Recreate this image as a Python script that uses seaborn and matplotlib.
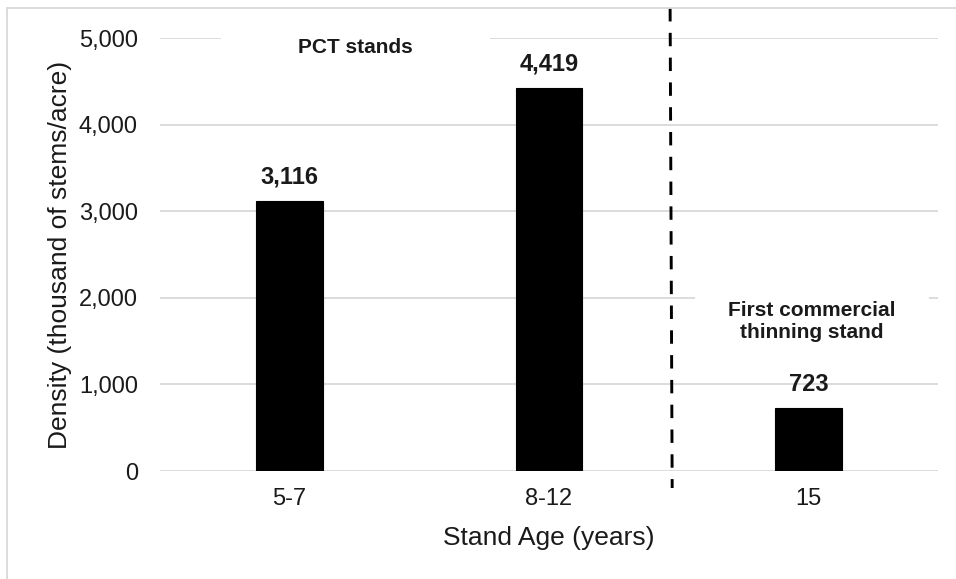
import matplotlib
matplotlib.use("Agg")
import matplotlib.pyplot as plt
from matplotlib.patches import Rectangle
import seaborn as sns

# chart data
stand_ages = ["5-7", "8-12", "15"]
density = [3116, 4419, 723]
y_ticks = [0, 1000, 2000, 3000, 4000, 5000]
group_notes = ["PCT stands", "First commercial\nthinning stand"]

sns.set_theme(style="white")
plt.rcParams["font.family"] = ["Liberation Sans", "DejaVu Sans"]

fig = plt.figure(figsize=(9.56, 5.79), dpi=100)
ax = fig.add_axes([160 / 956, 1 - 471 / 579, 778 / 956, 433 / 579])

sns.barplot(x=stand_ages, y=density, color="black", width=0.257,
            edgecolor="black", linewidth=0.8, saturation=1, ax=ax, zorder=3)

ax.set_xlim(-0.5, 2.5)
ax.set_ylim(0, 5000)
ax.set_yticks(y_ticks)
ax.set_yticklabels([f"{v:,}" for v in y_ticks])
ax.yaxis.grid(True, color="#d9d9d9", linewidth=1.3, zorder=0)
ax.set_axisbelow(True)
for s in ax.spines.values():
    s.set_visible(False)
ax.tick_params(axis="both", length=0, labelsize=17, colors="#1a1a1a")
ax.tick_params(axis="x", pad=12)
ax.tick_params(axis="y", pad=16)

ax.set_xlabel("Stand Age (years)", fontsize=19, color="#1a1a1a", labelpad=12)
ax.set_ylabel("Density (thousand of stems/acre)", fontsize=19, color="#1a1a1a", labelpad=5)

# value labels above the bars
for i, v in enumerate(density):
    ax.text(i, v + 200, f"{v:,}", ha="center", va="baseline",
            fontsize=17, fontweight="bold", color="#1a1a1a", zorder=5)

# white boxes for the group notes (they hide the gridlines)
ax.add_patch(Rectangle((-0.265, 4650), 1.038, 600, facecolor="white",
                       edgecolor="none", zorder=1, clip_on=False))
ax.add_patch(Rectangle((1.563, 1450), 0.903, 750, facecolor="white",
                       edgecolor="none", zorder=1, clip_on=False))
ax.text(0.252, 4896, group_notes[0], ha="center", va="center",
        fontsize=15, fontweight="bold", color="#1a1a1a", zorder=5)
ax.text(2.014, 1726, group_notes[1], ha="center", va="center",
        fontsize=15, fontweight="bold", color="#1a1a1a", linespacing=1.2, zorder=5)

# dashed divider between stand groups
ax.plot([1.467, 1.475], [5346, -196], color="black", linewidth=2.1,
        linestyle=(0, (4.6, 3.9)), clip_on=False, zorder=4)

# light outer frame of the chart area
fig.add_artist(Rectangle((7 / 956, -0.1), 1.2, 1.1 - 8 / 579,
                         transform=fig.transFigure, facecolor="none",
                         edgecolor="#d9d9d9", linewidth=1.3))

fig.savefig("out.png", dpi=100)
